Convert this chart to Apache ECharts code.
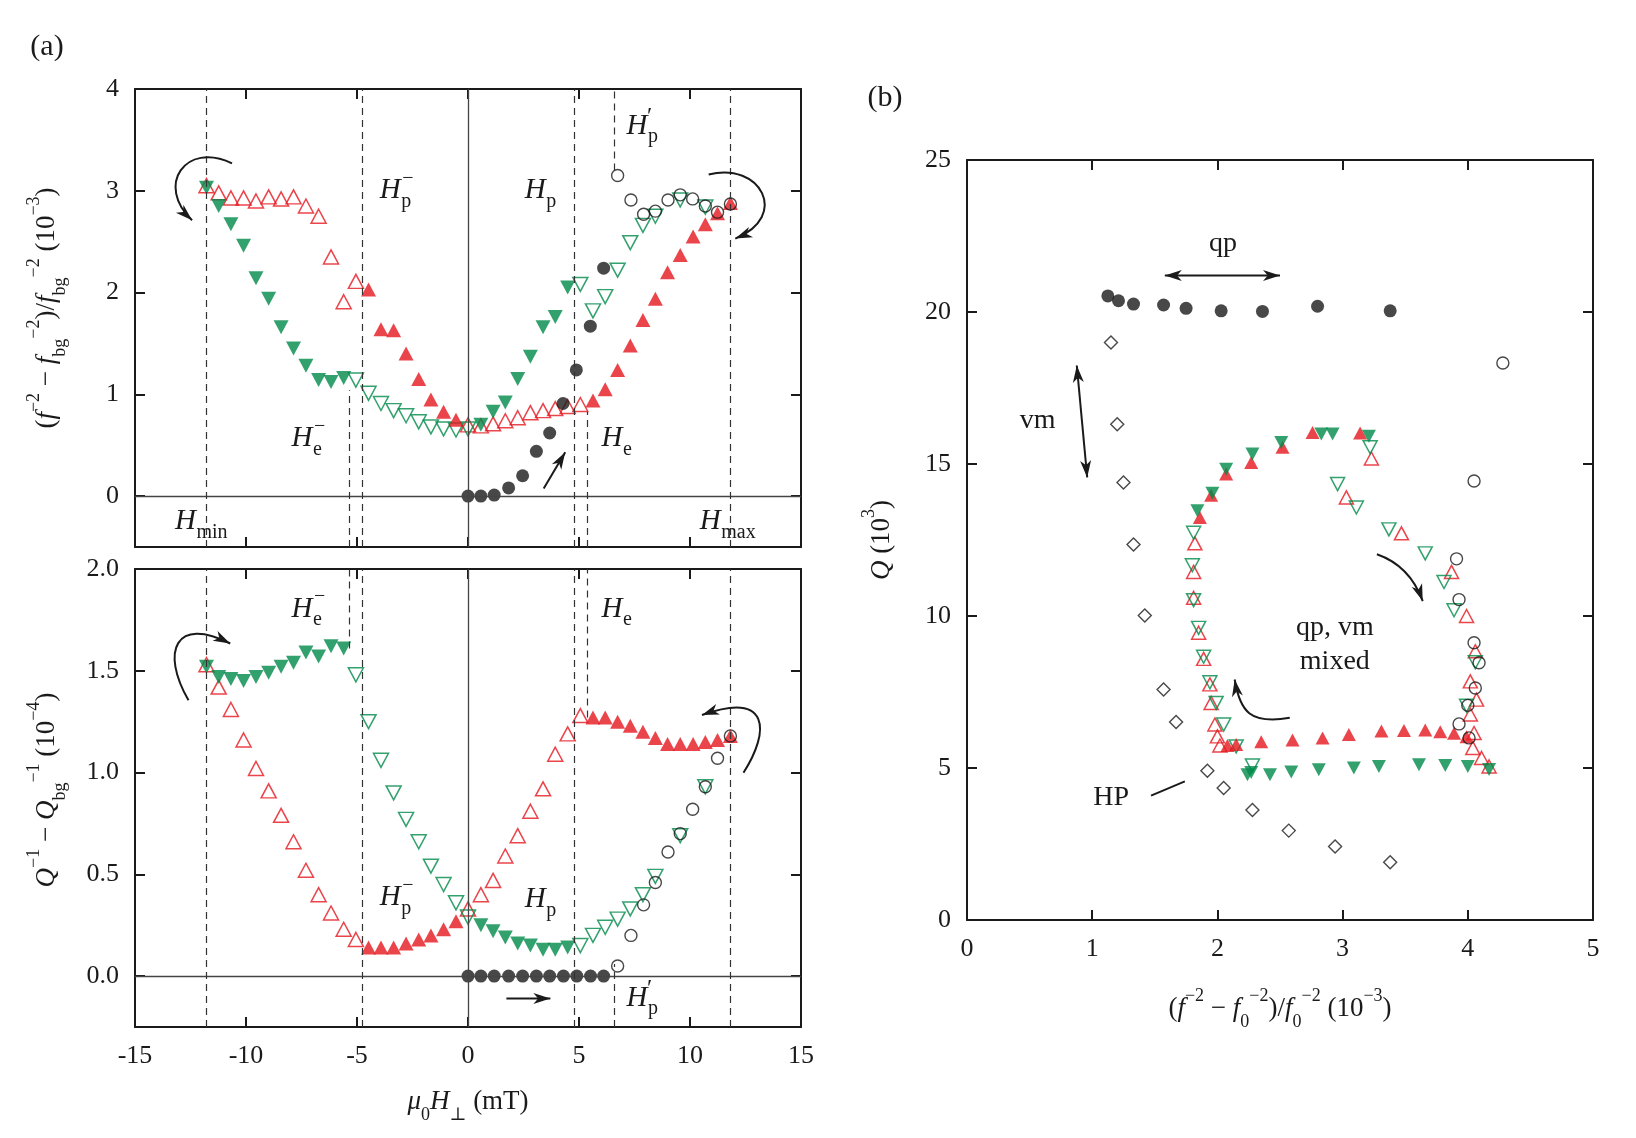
<!DOCTYPE html>
<html>
<head>
<meta charset="utf-8">
<script src="https://cdn.jsdelivr.net/npm/echarts@6/dist/echarts.min.js"></script>
<style>
  html, body { margin: 0; background: #fff; }
  #chart { width: 1636px; height: 1138px; }
</style>
</head>
<body>
<div id="chart"></div>
<script>
// ---------- panel (a) top: (f^-2 - fbg^-2)/fbg^-2 (10^-3) vs mu0 H (mT)
const topRedOpen = [[-11.78,3.05],[-11.23,2.98],[-10.68,2.93],[-10.11,2.93],[-9.55,2.90],[-8.98,2.94],[-8.42,2.92],[-7.86,2.94],[-7.30,2.85],[-6.73,2.75],[-6.17,2.35],[-5.60,1.91],[-5.05,2.11],
  [0,0.70],[0.58,0.69],[1.13,0.71],[1.68,0.74],[2.24,0.77],[2.81,0.82],[3.38,0.84],[3.93,0.86],[4.49,0.88],[5.06,0.90]];
const topRedFilled = [[-4.48,2.03],[-3.92,1.64],[-3.35,1.63],[-2.79,1.40],[-2.22,1.15],[-1.67,0.95],[-1.10,0.83],[-0.54,0.75],
  [5.63,0.94],[6.18,1.05],[6.74,1.24],[7.31,1.48],[7.88,1.73],[8.44,1.94],[8.99,2.20],[9.56,2.37],[10.14,2.55],[10.69,2.67],[11.24,2.78],[11.82,2.88]];
const topGreenFilled = [[-11.78,3.03],[-11.23,2.85],[-10.68,2.67],[-10.11,2.46],[-9.55,2.14],[-8.98,1.94],[-8.42,1.66],[-7.86,1.45],[-7.30,1.28],[-6.73,1.14],[-6.17,1.12],[-5.60,1.16],
  [0.58,0.70],[1.13,0.83],[1.68,0.92],[2.24,1.15],[2.81,1.37],[3.38,1.66],[3.93,1.76],[4.49,2.05]];
const topGreenOpen = [[-5.05,1.14],[-4.48,1.01],[-3.92,0.91],[-3.35,0.84],[-2.79,0.79],[-2.22,0.73],[-1.67,0.68],[-1.10,0.66],[-0.54,0.65],[0,0.66],
  [5.06,2.08],[5.63,1.82],[6.18,1.96],[6.74,2.22],[7.31,2.49],[7.88,2.66],[8.44,2.75],[9.56,2.91],[10.69,2.84]];
const topBlackFilled = [[0,0],[0.58,0],[1.18,0.01],[1.83,0.08],[2.46,0.20],[3.08,0.44],[3.68,0.62],[4.28,0.91],[4.88,1.24],[5.51,1.67],[6.11,2.24]];
const topBlackOpen = [[6.74,3.15],[7.34,2.91],[7.91,2.77],[8.44,2.80],[9.01,2.91],[9.56,2.96],[10.12,2.92],[10.69,2.85],[11.24,2.79],[11.82,2.87]];

// ---------- panel (a) bottom: Q^-1 - Qbg^-1 (10^-4)
const botRedOpen = [[-11.78,1.53],[-11.23,1.42],[-10.68,1.31],[-10.11,1.16],[-9.55,1.02],[-8.98,0.91],[-8.42,0.79],[-7.86,0.66],[-7.30,0.52],[-6.73,0.40],[-6.17,0.31],[-5.60,0.23],[-5.05,0.18],
  [0,0.33],[0.58,0.40],[1.13,0.47],[1.68,0.59],[2.24,0.69],[2.81,0.81],[3.38,0.92],[3.93,1.09],[4.49,1.19],[5.06,1.28]];
const botRedFilled = [[-4.48,0.14],[-3.92,0.14],[-3.35,0.14],[-2.79,0.16],[-2.22,0.18],[-1.67,0.20],[-1.10,0.23],[-0.54,0.27],
  [5.63,1.27],[6.18,1.27],[6.74,1.25],[7.31,1.23],[7.88,1.20],[8.44,1.17],[8.99,1.14],[9.56,1.14],[10.14,1.14],[10.69,1.15],[11.24,1.16],[11.82,1.18]];
const botGreenFilled = [[-11.78,1.52],[-11.23,1.47],[-10.68,1.46],[-10.11,1.45],[-9.55,1.47],[-8.98,1.49],[-8.42,1.52],[-7.86,1.54],[-7.30,1.59],[-6.73,1.57],[-6.17,1.62],[-5.60,1.61],
  [0.58,0.25],[1.13,0.22],[1.68,0.19],[2.24,0.16],[2.81,0.15],[3.38,0.13],[3.93,0.13],[4.49,0.14]];
const botGreenOpen = [[-5.05,1.48],[-4.48,1.25],[-3.92,1.06],[-3.35,0.90],[-2.79,0.77],[-2.22,0.66],[-1.67,0.54],[-1.10,0.45],[-0.54,0.36],[0,0.29],
  [5.06,0.15],[5.63,0.20],[6.18,0.24],[6.74,0.28],[7.31,0.33],[7.88,0.40],[8.44,0.49],[9.56,0.69],[10.69,0.93]];
const botBlackFilled = [[0,0],[0.58,0],[1.18,0],[1.83,0],[2.46,0],[3.08,0],[3.68,0],[4.30,0],[4.90,0],[5.52,0],[6.11,0]];
const botBlackOpen = [[6.74,0.05],[7.34,0.20],[7.91,0.35],[8.44,0.46],[9.01,0.61],[9.56,0.70],[10.12,0.82],[10.69,0.93],[11.24,1.07],[11.82,1.18]];

// ---------- panel (b): Q (10^3) vs (f^-2 - f0^-2)/f0^-2 (10^-3)
const rQp = [[1.125,20.53],[1.21,20.37],[1.33,20.26],[1.57,20.23],[1.75,20.12],[2.03,20.04],[2.36,20.02],[2.80,20.19],[3.38,20.04]];
const rHp = [[1.15,19.00],[1.20,16.31],[1.25,14.39],[1.33,12.35],[1.42,10.02],[1.57,7.58],[1.67,6.51],[1.92,4.91],[2.05,4.34],[2.28,3.62],[2.57,2.94],[2.94,2.42],[3.38,1.90]];
const rBlackOpen = [[4.28,18.32],[4.05,14.44],[3.91,11.88],[3.93,10.54],[4.05,9.12],[4.09,8.46],[4.06,7.63],[4.00,7.06],[3.93,6.45],[4.01,5.99]];
const rRedFilled = [[1.86,13.24],[1.95,13.97],[2.07,14.67],[2.27,15.05],[2.52,15.55],[2.76,16.04],[3.14,16.02],
  [2.08,5.74],[2.15,5.77],[2.35,5.86],[2.60,5.92],[2.84,5.99],[3.05,6.10],[3.31,6.22],[3.49,6.23],[3.66,6.25],[3.78,6.19],[3.89,6.14],[3.99,6.03]];
const rGreenFilled = [[1.84,13.46],[1.96,14.04],[2.07,14.83],[2.28,15.33],[2.51,15.71],[2.83,15.99],[2.92,15.99],[3.21,15.91],
  [2.24,4.78],[2.27,4.85],[2.42,4.78],[2.59,4.87],[2.81,4.94],[3.09,5.00],[3.29,5.05],[3.61,5.11],[3.82,5.08],[4.00,5.05],[4.17,4.95]];
const rGreenOpen = [[3.22,15.55],[2.96,14.34],[3.11,13.57],[3.37,12.85],[3.66,12.06],[3.81,11.12],[3.89,10.19],[4.06,8.48],[3.99,7.05],
  [1.81,12.74],[1.80,11.67],[1.81,10.52],[1.85,9.61],[1.89,8.66],[1.94,7.82],[1.99,7.14],[2.05,6.43],[2.15,5.71],[2.28,5.08]];
const rRedOpen = [[3.23,15.18],[3.03,13.90],[3.47,12.72],[3.87,11.45],[3.99,10.00],[4.06,8.84],[4.02,7.85],[4.07,7.25],[4.02,6.76],[4.05,6.15],[4.04,5.66],[4.11,5.33],[4.17,5.05],
  [1.82,12.39],[1.81,11.45],[1.81,10.60],[1.85,9.45],[1.89,8.59],[1.94,7.75],[1.95,7.14],[1.98,6.43],[2.00,6.04],[2.02,5.74]];

// tick values
const topYTicks = [0, 1, 2, 3, 4];
const botYTicks = [0, 0.5, 1.0, 1.5, 2.0];

const FONT = '"Liberation Serif", "DejaVu Serif", serif';
const RED = '#e5161e', GREEN = '#00894a', INK = '#1a1a1a';

const chart = echarts.init(document.getElementById('chart'));

function xAx(grid, pos, min, max, interval, showLabel) {
  return {
    type: 'value', gridIndex: grid, position: pos, min: min, max: max, interval: interval,
    axisLine: { show: true, onZero: false, lineStyle: { color: INK, width: 2 } },
    axisTick: { show: true, inside: true, length: 10, lineStyle: { color: INK, width: 2 } },
    axisLabel: { show: showLabel, margin: 16, fontFamily: FONT, fontSize: 26, color: INK },
    splitLine: { show: false }
  };
}
function yAx(grid, pos, min, max, ticks, showLabel, fmt) {
  const a = {
    type: 'value', gridIndex: grid, position: pos, min: min, max: max,
    axisLine: { show: true, onZero: false, lineStyle: { color: INK, width: 2 } },
    axisTick: { show: true, inside: true, length: 10, lineStyle: { color: INK, width: 2 } },
    axisLabel: { show: showLabel, margin: 16, fontFamily: FONT, fontSize: 26, color: INK },
    splitLine: { show: false }
  };
  if (ticks) {
    a.axisTick.customValues = ticks;
    a.axisLabel.customValues = ticks;
  } else {
    a.interval = 5;
  }
  if (fmt) a.axisLabel.formatter = fmt;
  return a;
}

const st = {
  redOpen: { symbol: 'triangle', itemStyle: { color: 'rgba(0,0,0,0)', borderColor: RED, borderWidth: 1.5 } },
  redFilled: { symbol: 'triangle', itemStyle: { color: RED } },
  greenOpen: { symbol: 'triangle', symbolRotate: 180, itemStyle: { color: 'rgba(0,0,0,0)', borderColor: GREEN, borderWidth: 1.5 } },
  greenFilled: { symbol: 'triangle', symbolRotate: 180, itemStyle: { color: GREEN } },
  blackFilled: { symbol: 'circle', itemStyle: { color: INK } },
  blackOpen: { symbol: 'circle', itemStyle: { color: 'rgba(0,0,0,0)', borderColor: INK, borderWidth: 1.4 } },
  diamond: { symbol: 'diamond', itemStyle: { color: 'rgba(0,0,0,0)', borderColor: INK, borderWidth: 1.4 } }
};
function sc(data, g, style, size) {
  return Object.assign({ type: 'scatter', data: data, xAxisIndex: g, yAxisIndex: g, symbolSize: size, silent: true }, style);
}

const dash = { color: '#333', width: 1.2, type: [7, 5] };
const solid = { color: '#444', width: 1.3, type: 'solid' };
function seg(x0, y0, x1, y1, ls) {
  return [{ coord: [x0, y0], lineStyle: ls }, { coord: [x1, y1], lineStyle: ls }];
}
function guides(ymin, ymax, partial) {
  return {
    silent: true, symbol: ['none', 'none'], label: { show: false }, animation: false,
    data: [
      seg(0, ymin, 0, ymax, solid),
      seg(-15, 0, 15, 0, solid),
      seg(-11.79, ymin, -11.79, ymax, dash),
      seg(-4.77, ymin, -4.77, ymax, dash),
      seg(4.80, ymin, 4.80, ymax, dash),
      seg(11.82, ymin, 11.82, ymax, dash)
    ].concat(partial.map(p => seg(p[0], p[1], p[0], p[2], dash)))
  };
}

const TRI = [15, 14], TRI_R = [14, 13];

const topGuide = sc([], 0, st.blackFilled, 1);
topGuide.markLine = guides(-0.5, 4, [[-5.33, -0.5, 1.04], [5.36, -0.5, 0.83], [6.59, 3.2, 4]]);
const botGuide = sc([], 1, st.blackFilled, 1);
botGuide.markLine = guides(-0.25, 2, [[-5.33, 1.61, 2], [5.36, 1.27, 2], [6.59, -0.25, 0.06]]);

chart.setOption({
  animation: false,
  backgroundColor: '#fff',
  grid: [
    { left: 135, top: 89, width: 666, height: 458 },
    { left: 135, top: 569, width: 666, height: 458 },
    { left: 967, top: 160, width: 626, height: 760 }
  ],
  xAxis: [
    xAx(0, 'bottom', -15, 15, 5, false),
    xAx(1, 'bottom', -15, 15, 5, true),
    xAx(2, 'bottom', 0, 5, 1, true),
    xAx(0, 'top', -15, 15, 5, false),
    xAx(1, 'top', -15, 15, 5, false),
    xAx(2, 'top', 0, 5, 1, false)
  ],
  yAxis: [
    yAx(0, 'left', -0.5, 4, topYTicks, true),
    yAx(1, 'left', -0.25, 2, botYTicks, true, v => v.toFixed(1)),
    yAx(2, 'left', 0, 25, null, true),
    yAx(0, 'right', -0.5, 4, topYTicks, false),
    yAx(1, 'right', -0.25, 2, botYTicks, false),
    yAx(2, 'right', 0, 25, null, false)
  ],
  series: [
    topGuide, botGuide,
    sc(topRedOpen, 0, st.redOpen, TRI),
    sc(topGreenOpen, 0, st.greenOpen, TRI),
    sc(topRedFilled, 0, st.redFilled, TRI),
    sc(topGreenFilled, 0, st.greenFilled, TRI),
    sc(topBlackFilled, 0, st.blackFilled, 13),
    sc(topBlackOpen, 0, st.blackOpen, 12),
    sc(botRedOpen, 1, st.redOpen, TRI),
    sc(botGreenOpen, 1, st.greenOpen, TRI),
    sc(botRedFilled, 1, st.redFilled, TRI),
    sc(botGreenFilled, 1, st.greenFilled, TRI),
    sc(botBlackFilled, 1, st.blackFilled, 13),
    sc(botBlackOpen, 1, st.blackOpen, 12),
    sc(rRedOpen, 2, st.redOpen, TRI_R),
    sc(rGreenOpen, 2, st.greenOpen, TRI_R),
    sc(rRedFilled, 2, st.redFilled, TRI_R),
    sc(rGreenFilled, 2, st.greenFilled, TRI_R),
    sc(rQp, 2, st.blackFilled, 13),
    sc(rHp, 2, st.diamond, 13),
    sc(rBlackOpen, 2, st.blackOpen, 12)
  ]
});

// ---------- annotations, placed in data coordinates
function P(g, pt) { return chart.convertToPixel({ xAxisIndex: g, yAxisIndex: g }, pt); }

function head(tip, from, L, W) {
  const dx = tip[0] - from[0], dy = tip[1] - from[1];
  const d = Math.hypot(dx, dy), ux = dx / d, uy = dy / d;
  const bx = tip[0] - ux * L, by = tip[1] - uy * L;
  return {
    type: 'polygon', silent: true, z: 100,
    shape: { points: [tip, [bx - uy * W / 2, by + ux * W / 2], [tip[0] - ux * L * 0.72, tip[1] - uy * L * 0.72], [bx + uy * W / 2, by - ux * W / 2]] },
    style: { fill: INK }
  };
}

const curvedArrows = [
  { g: 0, pts: [[-10.63, 3.27], [-12.74, 3.49], [-14.09, 3.05], [-12.43, 2.71]] },
  { g: 0, pts: [[10.84, 3.16], [13.17, 3.29], [14.52, 2.75], [12.04, 2.53]] },
  { g: 1, pts: [[-12.59, 1.355], [-13.86, 1.596], [-13.18, 1.77], [-10.71, 1.634]] },
  { g: 1, pts: [[12.41, 0.999], [13.61, 1.205], [13.61, 1.402], [10.54, 1.283]] },
  { g: 2, pts: [[3.274, 12.03], [3.456, 11.77], [3.576, 11.21], [3.64, 10.49]] },
  { g: 2, pts: [[2.578, 6.65], [2.26, 6.43], [2.18, 6.86], [2.138, 7.91]] }
];
const straightArrows = [
  { g: 0, from: [3.41, 0.075], to: [4.38, 0.43], heads: 1 },
  { g: 1, from: [1.73, -0.11], to: [3.71, -0.11], heads: 1 },
  { g: 2, from: [1.58, 21.2], to: [2.50, 21.2], heads: 2 },
  { g: 2, from: [0.877, 18.24], to: [0.96, 14.56], heads: 2 },
  { g: 2, from: [1.47, 4.09], to: [1.74, 4.56], heads: 0 }
];
const hLabels = [
  { g: 0, at: [-12.73, -0.252], sub: 'min' },
  { g: 0, at: [10.91, -0.252], sub: 'max' },
  { g: 0, at: [-3.50, 3.0], sub: 'p', sup: '−' },
  { g: 0, at: [-7.48, 0.566], sub: 'e', sup: '−' },
  { g: 0, at: [3.03, 3.0], sub: 'p' },
  { g: 0, at: [6.49, 0.566], sub: 'e' },
  { g: 0, at: [7.61, 3.637], sub: 'p', sup: '′' },
  { g: 1, at: [-7.48, 1.803], sub: 'e', sup: '−' },
  { g: 1, at: [6.49, 1.803], sub: 'e' },
  { g: 1, at: [-3.50, 0.385], sub: 'p', sup: '−' },
  { g: 1, at: [3.03, 0.377], sub: 'p' },
  { g: 1, at: [7.61, -0.107], sub: 'p', sup: '′' }
];
const plainLabels = [
  { g: 2, at: [2.044, 22.25], text: 'qp' },
  { g: 2, at: [0.565, 16.42], text: 'vm' },
  { g: 2, at: [1.152, 4.01], text: 'HP' },
  { g: 2, at: [2.938, 9.61], text: 'qp, vm' },
  { g: 2, at: [2.938, 8.51], text: 'mixed' }
];

const graphics = [];
curvedArrows.forEach(a => {
  const p = a.pts.map(pt => P(a.g, pt));
  graphics.push({
    type: 'bezierCurve', silent: true, z: 99,
    shape: { x1: p[0][0], y1: p[0][1], cpx1: p[1][0], cpy1: p[1][1], cpx2: p[2][0], cpy2: p[2][1], x2: p[3][0], y2: p[3][1] },
    style: { stroke: INK, lineWidth: 2, fill: null }
  });
  graphics.push(head(p[3], p[2], 17, 11));
});
straightArrows.forEach(a => {
  const p0 = P(a.g, a.from), p1 = P(a.g, a.to);
  graphics.push({
    type: 'line', silent: true, z: 99,
    shape: { x1: p0[0], y1: p0[1], x2: p1[0], y2: p1[1] },
    style: { stroke: INK, lineWidth: 2 }
  });
  if (a.heads >= 1) graphics.push(head(p1, p0, 17, 11));
  if (a.heads === 2) graphics.push(head(p0, p1, 17, 11));
});
hLabels.forEach(h => {
  const c = P(h.g, h.at);
  const kids = [{
    type: 'text', x: 0, y: 0,
    style: { text: 'H', font: 'italic 29px ' + FONT, fill: INK, align: 'center', verticalAlign: 'middle' }
  }, {
    type: 'text', x: 11, y: 11,
    style: { text: h.sub, font: '20px ' + FONT, fill: INK, align: 'left', verticalAlign: 'middle' }
  }];
  if (h.sup) {
    kids.push({
      type: 'text', x: h.sup === '′' ? 10 : 12, y: h.sup === '′' ? -9 : -12,
      style: { text: h.sup, font: (h.sup === '′' ? '24px ' : '20px ') + FONT, fill: INK, align: 'left', verticalAlign: 'middle' }
    });
  }
  graphics.push({ type: 'group', x: c[0], y: c[1], silent: true, children: kids });
});
plainLabels.forEach(t => {
  const c = P(t.g, t.at);
  graphics.push({
    type: 'text', x: c[0], y: c[1], silent: true,
    style: { text: t.text, font: '28px ' + FONT, fill: INK, align: 'center', verticalAlign: 'middle' }
  });
});

// axis titles with sub/superscripts
const rich = {
  r: { fontFamily: FONT, fontSize: 27, lineHeight: 44, fill: INK, color: INK },
  i: { fontFamily: FONT, fontSize: 27, fontStyle: 'italic', lineHeight: 44, fill: INK, color: INK },
  sup: { fontFamily: FONT, fontSize: 18, lineHeight: 30, verticalAlign: 'top', fill: INK, color: INK },
  sub: { fontFamily: FONT, fontSize: 18, lineHeight: 30, verticalAlign: 'bottom', fill: INK, color: INK }
};
function title(x, y, text, rot) {
  return {
    type: 'text', x: x, y: y, rotation: rot || 0, silent: true,
    style: { text: text, rich: rich, font: '27px ' + FONT, fill: INK, align: 'center', verticalAlign: 'middle' }
  };
}
graphics.push(title(47, 308, '{r|(}{i|f}{sup|−2}{r| − }{i|f}{sub|bg}{sup|−2}{r|)/}{i|f}{sub|bg}{sup|−2}{r| (10}{sup|−3}{r|)}', Math.PI / 2));
graphics.push(title(47, 790, '{i|Q}{sup|−1}{r| − }{i|Q}{sub|bg}{sup|−1}{r| (10}{sup|−4}{r|)}', Math.PI / 2));
graphics.push(title(468, 1102, '{i|μ}{sub|0}{i|H}{sub|⊥}{r| (mT)}'));
graphics.push(title(882, 540, '{i|Q}{r| (10}{sup|3}{r|)}', Math.PI / 2));
graphics.push(title(1280, 1009, '{r|(}{i|f}{sup|−2}{r| − }{i|f}{sub|0}{sup|−2}{r|)/}{i|f}{sub|0}{sup|−2}{r| (10}{sup|−3}{r|)}'));
graphics.push({ type: 'text', x: 47, y: 47, silent: true, style: { text: '(a)', font: '30px ' + FONT, fill: INK, align: 'center', verticalAlign: 'middle' } });
graphics.push({ type: 'text', x: 885, y: 98, silent: true, style: { text: '(b)', font: '30px ' + FONT, fill: INK, align: 'center', verticalAlign: 'middle' } });

chart.setOption({ graphic: graphics });
</script>
</body>
</html>
